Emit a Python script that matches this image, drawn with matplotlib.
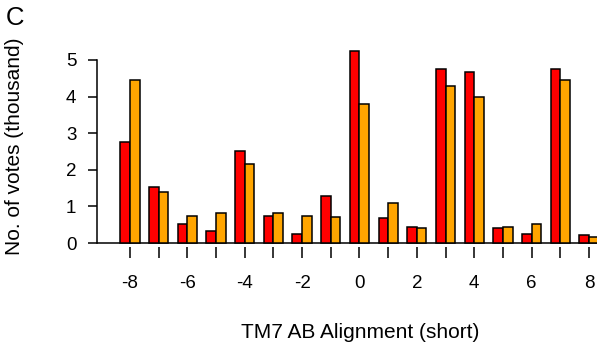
import matplotlib
matplotlib.use("Agg")
import matplotlib.pyplot as plt
import numpy as np

plt.rcParams['font.family'] = ['Liberation Sans', 'DejaVu Sans']

# ---- data (thousand votes)
positions = [-8, -7, -6, -5, -4, -3, -2, -1, 0, 1, 2, 3, 4, 5, 6, 7, 8]
red_vals = [2.76, 1.54, 0.53, 0.33, 2.51, 0.74, 0.25, 1.28, 5.25, 0.67, 0.43, 4.75, 4.67, 0.42, 0.25, 4.75, 0.23]
orange_vals = [4.45, 1.38, 0.74, 0.83, 2.17, 0.81, 0.74, 0.72, 3.79, 1.08, 0.40, 4.28, 4.00, 0.44, 0.51, 4.45, 0.17]
xtick_vals = [-8, -6, -4, -2, 0, 2, 4, 6, 8]
ytick_vals = [0, 1, 2, 3, 4, 5]

W, H = 597, 346
fig = plt.figure(figsize=(W / 100, H / 100), dpi=100)
# axes box in pixels: left 97, right 597, bottom 247.4, top 49
ax = fig.add_axes([97 / W, 1 - 247.4 / H, 1 - 97 / W, (247.4 - 49) / H])

x = np.array(positions, dtype=float)
bw = 0.335
ax.bar(x - bw, red_vals, width=bw, align='edge', color='#ff0000',
       edgecolor='black', linewidth=1.1, zorder=3)
ax.bar(x, orange_vals, width=bw, align='edge', color='#ffa500',
       edgecolor='black', linewidth=1.1, zorder=3)
ax.axhline(0, color='black', linewidth=1.1, zorder=2)

ax.set_xlim(-9.15, 8.28)
ax.set_ylim(-0.12, 5.3)

for s in ['top', 'right', 'bottom']:
    ax.spines[s].set_visible(False)
ax.spines['left'].set_bounds(0, 5)
ax.spines['left'].set_linewidth(1.1)

ax.set_yticks(ytick_vals)
ax.set_xticks(positions)
ax.set_xticklabels([str(p) if p in xtick_vals else '' for p in positions])
ax.tick_params(axis='y', length=6.8, width=1.1, pad=8, labelsize=13.5)
ax.tick_params(axis='x', length=8, width=1.1, pad=12, labelsize=13.5)

ax.set_ylabel('No. of votes (thousand)', fontsize=15)
ax.yaxis.set_label_coords((15 - 97) / 500, 0.51)
ax.yaxis.label.set_va('center')
fig.text(360 / W, 1 - 332 / H, 'TM7 AB Alignment (short)', fontsize=15,
         ha='center', va='center')
fig.text(6 / W, 1 - 6 / H, 'C', fontsize=18.5, ha='left', va='top')

fig.savefig('out.png', dpi=100)
